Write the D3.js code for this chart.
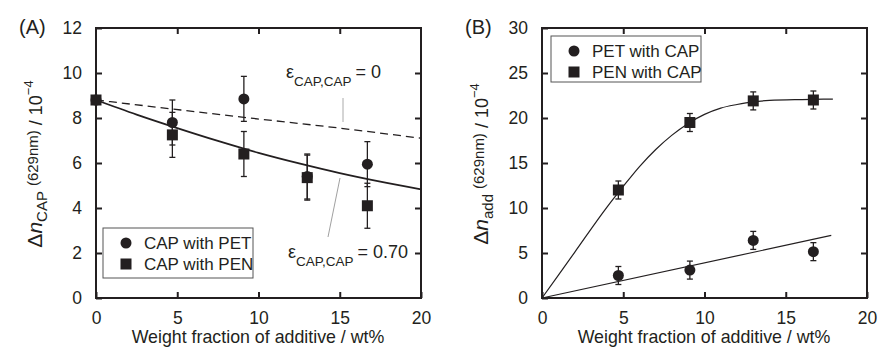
<!DOCTYPE html>
<html>
<head>
<meta charset="utf-8">
<script src="https://cdn.jsdelivr.net/npm/d3@7"></script>
<style>
body{margin:0;background:#fff;}
text{font-family:"Liberation Sans",Arial,sans-serif;fill:#231f20;}
</style>
</head>
<body>
<svg id="chart" width="878" height="349"></svg>
<script>
// data
var xTicks = [0, 5, 10, 15, 20];
var yTicksA = [0, 2, 4, 6, 8, 10, 12];
var yTicksB = [0, 5, 10, 15, 20, 25, 30];

// panel A: CAP with PET / PEN  [x, y, err]
var capPet = [[0, 8.8, 0], [4.7, 7.8, 1.0], [9.1, 8.85, 1.0], [13.0, 5.4, 1.0], [16.7, 5.95, 1.0]];
var capPen = [[0, 8.8, 0], [4.7, 7.25, 1.0], [9.1, 6.4, 1.0], [13.0, 5.35, 1.0], [16.7, 4.1, 1.0]];
var curveEps0 = [[0, 8.8], [4.7, 8.4], [9.1, 8.03], [15, 7.55], [20, 7.1]];
var curveEps70 = [[0, 8.8], [2.5, 8.15], [5, 7.55], [7.5, 6.98], [10, 6.45], [12.5, 5.98], [15, 5.55], [17.5, 5.17], [20, 4.83]];

// panel B: PET / PEN with CAP
var petCap = [[4.7, 2.5, 1.0], [9.1, 3.1, 1.0], [13.0, 6.4, 1.0], [16.7, 5.15, 1.0]];
var penCap = [[4.7, 12.0, 1.0], [9.1, 19.5, 1.0], [13.0, 21.9, 1.0], [16.7, 22.0, 1.0]];
var linePet = [[0, 0], [17.8, 6.95]];
var curvePen = [[0, 0], [2, 5.05], [4, 10.1], [5, 12.4], [6, 14.6], [7, 16.5], [8, 18.1], [9, 19.4], [10, 20.4], [11, 21.1], [12, 21.5], [13, 21.8], [14, 21.95], [16, 22.05], [17.9, 22.1]];

var svg = d3.select("#chart");
var ink = "#231f20";

function panel(opt){
	var x = d3.scaleLinear().domain([0, 20]).range([opt.left, opt.left + 325]);
	var y = d3.scaleLinear().domain([0, opt.ymax]).range([298, 28]);
	var g = svg.append("g");

	// inward ticks on all four sides
	var bottom = g.append("g").attr("transform", "translate(0,298)")
		.call(d3.axisBottom(x).tickValues(xTicks).tickSizeInner(-6).tickSizeOuter(0).tickPadding(14));
	var top = g.append("g").attr("transform", "translate(0,28)")
		.call(d3.axisTop(x).tickValues(xTicks.slice(1, -1)).tickSizeInner(-6).tickSizeOuter(0).tickFormat(""));
	var left = g.append("g").attr("transform", "translate(" + opt.left + ",0)")
		.call(d3.axisLeft(y).tickValues(opt.yTicks).tickSizeInner(-6).tickSizeOuter(0).tickPadding(14));
	var right = g.append("g").attr("transform", "translate(" + (opt.left + 325) + ",0)")
		.call(d3.axisRight(y).tickValues(opt.yTicks.slice(1, -1)).tickSizeInner(-6).tickSizeOuter(0).tickFormat(""));
	[bottom, top, left, right].forEach(function(a){
		a.select(".domain").remove();
		a.selectAll(".tick line").attr("stroke", ink).attr("stroke-width", 2);
		a.selectAll(".tick text").attr("font-size", 17.5).attr("font-family", "Liberation Sans, Arial, sans-serif").attr("fill", ink);
	});
	g.append("rect").attr("x", opt.left).attr("y", 28).attr("width", 325).attr("height", 270)
		.attr("fill", "none").attr("stroke", ink).attr("stroke-width", 2);

	// axis titles
	g.append("text").attr("x", opt.left + 162).attr("y", 343).attr("text-anchor", "middle")
		.attr("font-size", 17.8).text("Weight fraction of additive / wt%");
	var yl = g.append("text").attr("transform", "translate(" + opt.ylabX + ",164) rotate(-90)")
		.attr("text-anchor", "middle").attr("font-size", 18);
	yl.append("tspan").attr("font-size", 21).text("\u0394");
	yl.append("tspan").attr("font-size", 21).attr("font-style", "italic").text("n");
	yl.append("tspan").attr("font-size", 15).attr("dy", 5).text(opt.sub);
	yl.append("tspan").attr("font-size", 15).attr("dy", -9).attr("dx", 5).text("(629nm)");
	yl.append("tspan").attr("dy", 4).text(" / 10");
	yl.append("tspan").attr("font-size", 13).attr("dy", -9).text("\u22124");
	g.append("text").attr("x", opt.left - 77).attr("y", 34).attr("font-size", 20).text(opt.title);

	return {x: x, y: y, g: g};
}

function errorBars(p, data){
	data.filter(function(d){ return d[2] > 0; }).forEach(function(d){
		var cx = p.x(d[0]);
		p.g.append("line").attr("x1", cx).attr("x2", cx).attr("y1", p.y(d[1] - d[2])).attr("y2", p.y(d[1] + d[2]))
			.attr("stroke", ink).attr("stroke-width", 1.3);
		[d[1] - d[2], d[1] + d[2]].forEach(function(v){
			p.g.append("line").attr("x1", cx - 3).attr("x2", cx + 3).attr("y1", p.y(v)).attr("y2", p.y(v))
				.attr("stroke", ink).attr("stroke-width", 1.3);
		});
	});
}
function circles(p, data){
	p.g.selectAll(null).data(data).enter().append("circle")
		.attr("cx", function(d){ return p.x(d[0]); }).attr("cy", function(d){ return p.y(d[1]); })
		.attr("r", 5.5).attr("fill", ink);
}
function squares(p, data){
	p.g.selectAll(null).data(data).enter().append("rect")
		.attr("x", function(d){ return p.x(d[0]) - 5.5; }).attr("y", function(d){ return p.y(d[1]) - 5.5; })
		.attr("width", 11).attr("height", 11).attr("fill", ink);
}
function curve(p, data, dash, w){
	var line = d3.line().x(function(d){ return p.x(d[0]); }).y(function(d){ return p.y(d[1]); }).curve(d3.curveMonotoneX);
	p.g.append("path").datum(data).attr("d", line).attr("fill", "none").attr("stroke", ink)
		.attr("stroke-width", w).attr("stroke-dasharray", dash);
}
function legend(p, x0, y0, w, h, labels){
	p.g.append("rect").attr("x", x0).attr("y", y0).attr("width", w).attr("height", h)
		.attr("fill", "#fff").attr("stroke", "#555").attr("stroke-width", 1);
	p.g.append("circle").attr("cx", x0 + 23).attr("cy", y0 + 15).attr("r", 5.5).attr("fill", ink);
	p.g.append("rect").attr("x", x0 + 17.5).attr("y", y0 + 30.5).attr("width", 11).attr("height", 11).attr("fill", ink);
	p.g.append("text").attr("x", x0 + 41).attr("y", y0 + 21).attr("font-size", 17).text(labels[0]);
	p.g.append("text").attr("x", x0 + 41).attr("y", y0 + 42).attr("font-size", 17).text(labels[1]);
}
function epsLabel(p, x0, y0, value){
	var t = p.g.append("text").attr("x", x0).attr("y", y0).attr("font-size", 18);
	t.append("tspan").text("\u03b5");
	t.append("tspan").attr("font-size", 13.5).attr("dy", 8).text("CAP,CAP");
	t.append("tspan").attr("dy", -8).attr("dx", 4).text("= " + value);
}

// panel A
var pA = panel({left: 96, ymax: 12, yTicks: yTicksA, ylabX: 42, sub: "CAP", title: "(A)"});
curve(pA, curveEps0, "8,5", 1.3);
curve(pA, curveEps70, null, 1.8);
errorBars(pA, capPet);
errorBars(pA, capPen);
circles(pA, capPet);
squares(pA, capPen);
pA.g.append("line").attr("x1", 343).attr("x2", 343).attr("y1", 98).attr("y2", 122).attr("stroke", "#aaa").attr("stroke-width", 1);
pA.g.append("line").attr("x1", 340).attr("x2", 328).attr("y1", 178).attr("y2", 237).attr("stroke", "#888").attr("stroke-width", 0.8);
epsLabel(pA, 286, 78, "0");
epsLabel(pA, 288, 258, "0.70");
legend(pA, 103, 228, 150, 50, ["CAP with PET", "CAP with PEN"]);

// panel B
var pB = panel({left: 542, ymax: 30, yTicks: yTicksB, ylabX: 488, sub: "add", title: "(B)"});
curve(pB, linePet, null, 1.2);
curve(pB, curvePen, null, 1.2);
errorBars(pB, petCap);
errorBars(pB, penCap);
circles(pB, petCap);
squares(pB, penCap);
legend(pB, 551, 36, 150, 46, ["PET with CAP", "PEN with CAP"]);
</script>
</body>
</html>
